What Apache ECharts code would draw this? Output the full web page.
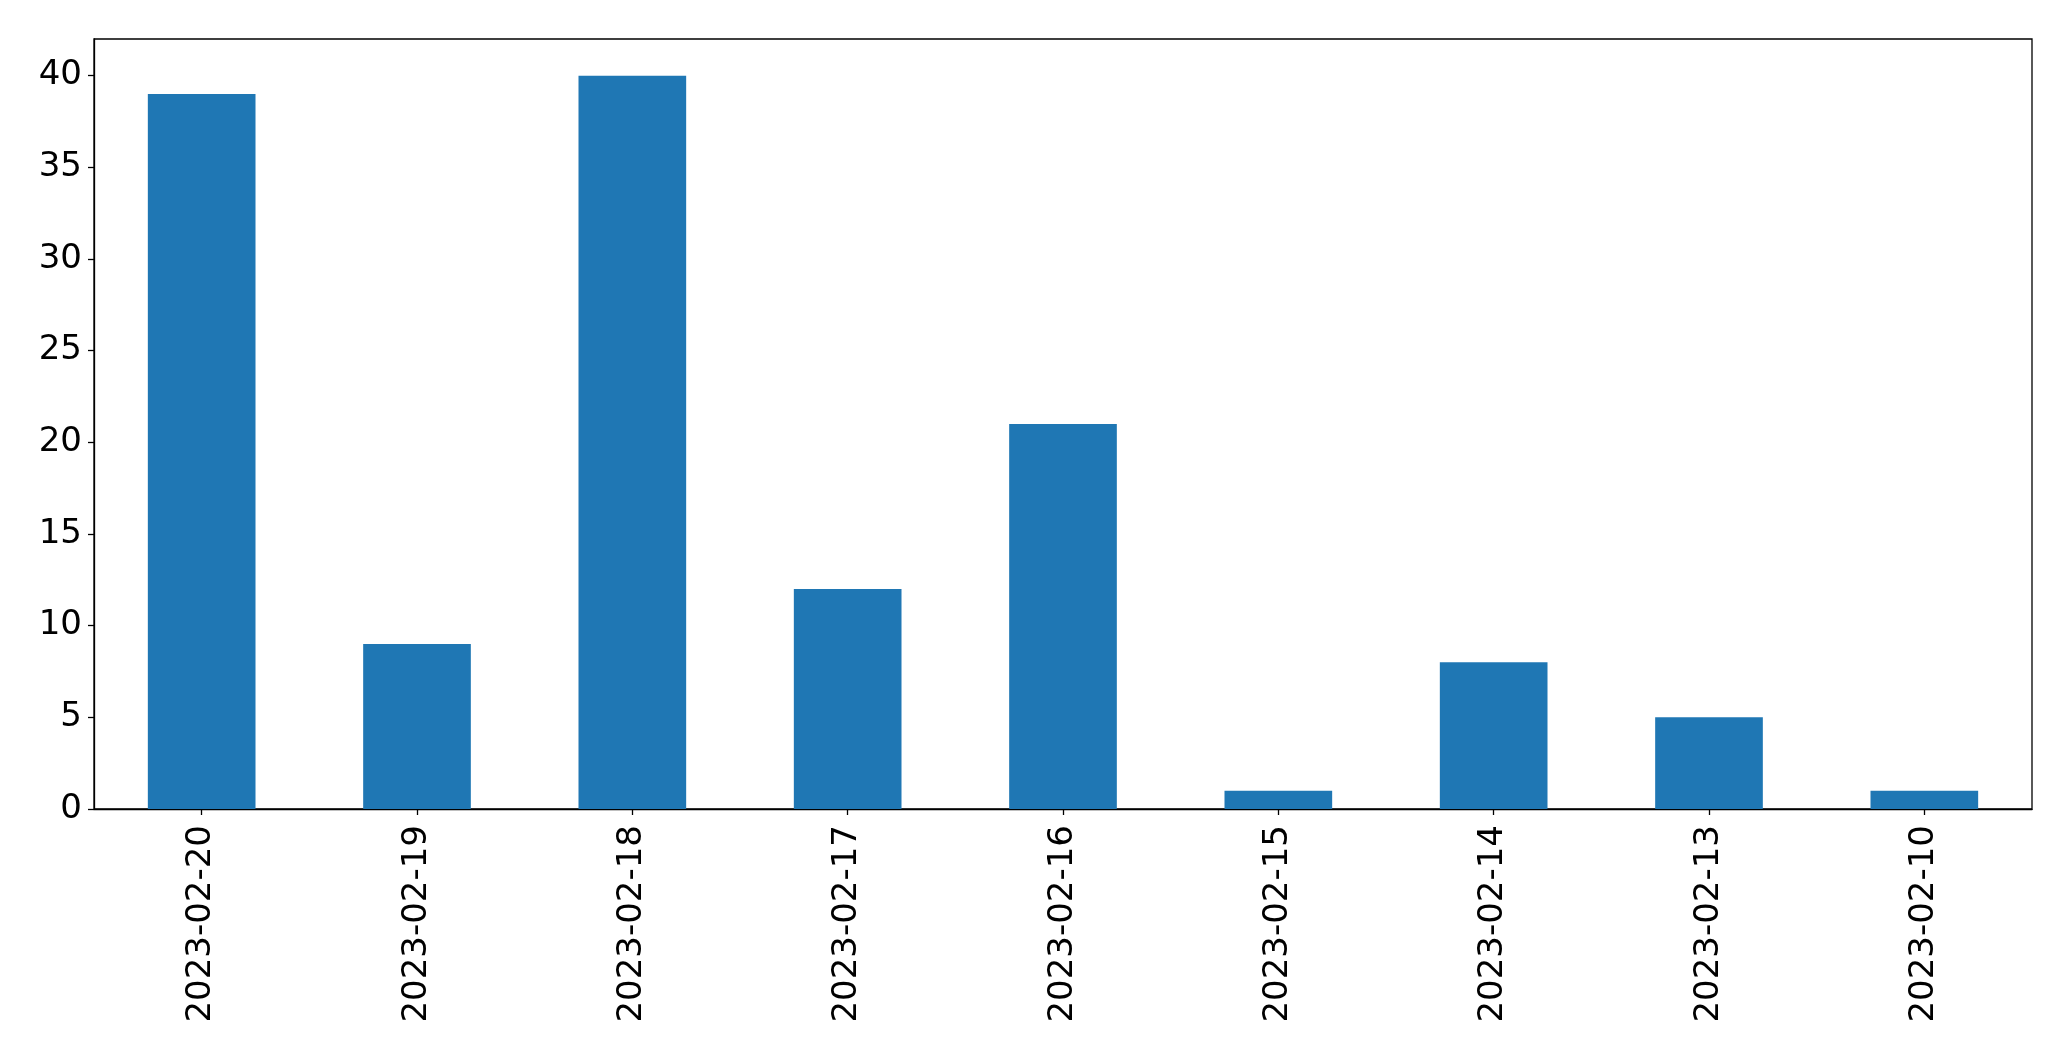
<!DOCTYPE html>
<html>
<head>
<meta charset="utf-8">
<script src="https://cdn.jsdelivr.net/npm/echarts@6/dist/echarts.min.js"></script>
<style>
html,body{margin:0;padding:0;background:#fff;}
#chart{width:2071px;height:1061px;}
</style>
</head>
<body>
<div id="chart"></div>
<script>
const categories = ["2023-02-20","2023-02-19","2023-02-18","2023-02-17","2023-02-16","2023-02-15","2023-02-14","2023-02-13","2023-02-10"];
const values = [39, 9, 40, 12, 21, 1, 8, 5, 1];
const yTicks = [0, 5, 10, 15, 20, 25, 30, 35, 40];

const chart = echarts.init(document.getElementById('chart'), null, {renderer: 'canvas'});
const font = 'DejaVu Sans';
chart.setOption({
  animation: false,
  backgroundColor: '#ffffff',
  grid: {
    left: 94, right: 39, top: 39, bottom: 252,
    show: true, borderColor: '#000', borderWidth: 1.3, backgroundColor: 'transparent'
  },
  xAxis: {
    type: 'category',
    data: categories,
    boundaryGap: true,
    axisLine: {show: true, lineStyle: {color: '#000', width: 1.3}},
    axisTick: {show: true, alignWithLabel: true, length: 6, lineStyle: {color: '#000', width: 1.3}},
    axisLabel: {rotate: 90, margin: 16, fontSize: 34, fontFamily: font, color: '#000', interval: 0},
    splitLine: {show: false}
  },
  yAxis: {
    type: 'value',
    min: 0, max: 42, interval: 5,
    axisLine: {show: true, lineStyle: {color: '#000', width: 1.3}},
    axisTick: {show: true, length: 6, customValues: yTicks, lineStyle: {color: '#000', width: 1.3}},
    axisLabel: {margin: 12, fontSize: 34, fontFamily: font, color: '#000', customValues: yTicks},
    splitLine: {show: false}
  },
  series: [{
    type: 'bar',
    data: values,
    barWidth: '50%',
    itemStyle: {color: '#1f77b4'}
  }]
});
</script>
</body>
</html>
